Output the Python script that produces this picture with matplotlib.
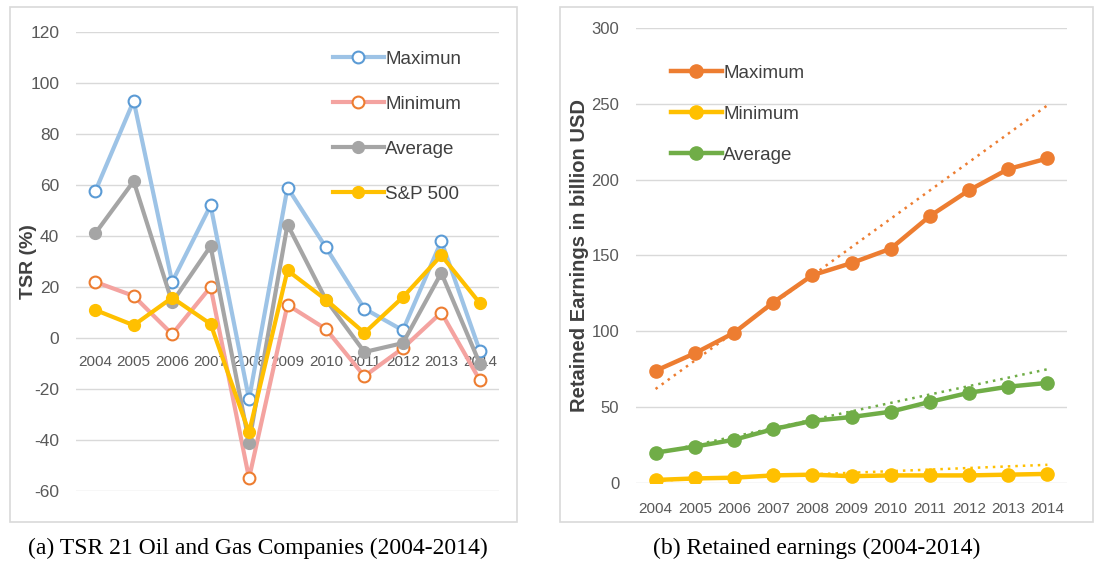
import matplotlib
matplotlib.use("Agg")
import matplotlib.pyplot as plt
from matplotlib.patches import Rectangle
import numpy as np

plt.rcParams['font.family'] = ['Liberation Sans', 'DejaVu Sans']
plt.rcParams['axes.unicode_minus'] = False

years = ['2004', '2005', '2006', '2007', '2008', '2009', '2010', '2011', '2012', '2013', '2014']

# (a) TSR, %
tsr_max = [57.5, 93, 22, 52, -24, 59, 35.5, 11.5, 3, 38, -5]
tsr_min = [22, 16.5, 1.5, 20, -55, 13, 3.5, -15, -4, 10, -16.5]
tsr_avg = [41, 61.5, 14, 36, -41, 44.5, 15, -5.5, -2, 25.5, -10]
tsr_sp500 = [11, 5, 15.8, 5.5, -37, 26.5, 15, 2, 16, 32.4, 13.7]

# (b) retained earnings, billion USD
re_max = [74, 85.5, 99, 119, 137, 145, 154.5, 176, 193, 207, 214]
re_min = [2, 3, 3.5, 5, 5.5, 4.5, 5, 5, 5, 5.5, 6]
re_avg = [20, 24, 28.5, 35.5, 41, 43.5, 47, 53.5, 59.5, 63.5, 66]
# dotted trend lines, value at 2004 and at 2014
trend_max = [62, 249]
trend_min = [1.5, 12]
trend_avg = [19.5, 75]

tick_col = '#595959'
grid_col = '#D9D9D9'

fig = plt.figure(figsize=(10.98, 5.63), dpi=100)

# panel frames
fig.add_artist(Rectangle((10 / 1098, 1 - 522 / 563), 507 / 1098, 515 / 563,
                         transform=fig.transFigure, fill=False, ec=grid_col, lw=1.2))
fig.add_artist(Rectangle((560 / 1098, 1 - 522 / 563), 533 / 1098, 515 / 563,
                         transform=fig.transFigure, fill=False, ec=grid_col, lw=1.2))

x = np.arange(len(years))

# ---- (a) ----
ax1 = fig.add_axes([76 / 1098, 1 - 491 / 563, 423 / 1098, 459 / 563])
ax1.plot(x, tsr_max, color='#9DC3E6', lw=3, marker='o', ms=8.5, mfc='white', mec='#5B9BD5', mew=1.5, label='Maximun')
ax1.plot(x, tsr_min, color='#F4A3A0', lw=3, marker='o', ms=8.5, mfc='white', mec='#ED7D31', mew=1.5, label='Minimum')
ax1.plot(x, tsr_avg, color='#A5A5A5', lw=3, marker='o', ms=8.5, label='Average')
ax1.plot(x, tsr_sp500, color='#FFC000', lw=3, marker='o', ms=8.5, label='S&P 500')
ax1.set_xlim(-0.5, 10.5)
ax1.set_ylim(-60, 120)
ax1.set_yticks(np.arange(-60, 121, 20))
ax1.set_xticks(x)
ax1.set_xticklabels(years)
ax1.grid(axis='y', color=grid_col, lw=1)
ax1.set_axisbelow(True)
for s in ax1.spines.values():
    s.set_visible(False)
ax1.spines['bottom'].set_position(('data', 0))
ax1.tick_params(length=0, colors=tick_col, labelsize=12.5)
ax1.tick_params(axis='x', pad=12, labelsize=11)
ax1.tick_params(axis='y', pad=12)
ax1.set_ylabel('TSR (%)', fontsize=14, fontweight='bold', color='#404040', labelpad=-5)
ax1.legend(loc='upper left', bbox_to_anchor=(316 / 1098, 1 - 34 / 563), bbox_transform=fig.transFigure,
           frameon=False, fontsize=13.5, labelspacing=1.48, handlelength=2.7, handletextpad=0.1,
           labelcolor='#404040')

# ---- (b) ----
ax2 = fig.add_axes([636 / 1098, 1 - 483 / 563, 431 / 1098, 455 / 563])
ax2.plot(x, re_max, color='#ED7D31', lw=3.2, marker='o', ms=9.5, label='Maximum')
ax2.plot(x, re_min, color='#FFC000', lw=3.2, marker='o', ms=9.5, label='Minimum')
ax2.plot(x, re_avg, color='#70AD47', lw=3.2, marker='o', ms=9.5, label='Average')
ax2.plot([x[0], x[-1]], trend_max, color='#ED7D31', lw=1.8, ls=(0, (1, 2)))
ax2.plot([x[0], x[-1]], trend_min, color='#FFC000', lw=1.8, ls=(0, (1, 2)))
ax2.plot([x[0], x[-1]], trend_avg, color='#70AD47', lw=1.8, ls=(0, (1, 2)))
ax2.set_xlim(-0.5, 10.5)
ax2.set_ylim(0, 300)
ax2.set_yticks(np.arange(0, 301, 50))
ax2.set_xticks(x)
ax2.set_xticklabels(years)
ax2.grid(axis='y', color=grid_col, lw=1)
ax2.set_axisbelow(True)
for s in ax2.spines.values():
    s.set_visible(False)
ax2.tick_params(length=0, colors=tick_col, labelsize=12)
ax2.tick_params(axis='x', pad=14, labelsize=11)
ax2.tick_params(axis='y', pad=12)
ax2.set_ylabel('Retained Earnings in billion USD', fontsize=14.5, fontweight='bold', color='#404040', labelpad=2)
ax2.legend(loc='upper left', bbox_to_anchor=(654 / 1098, 1 - 48 / 563), bbox_transform=fig.transFigure,
           frameon=False, fontsize=13.5, labelspacing=1.26, handlelength=2.7, handletextpad=0.1,
           labelcolor='#404040')

# captions
fig.text(258 / 1098, 1 - 548 / 563, '(a) TSR 21 Oil and Gas Companies (2004-2014)',
         family='Liberation Serif', fontsize=17, ha='center', va='center')
fig.text(817 / 1098, 1 - 548 / 563, '(b) Retained earnings (2004-2014)',
         family='Liberation Serif', fontsize=17, ha='center', va='center')

fig.savefig('out.png', dpi=100)
